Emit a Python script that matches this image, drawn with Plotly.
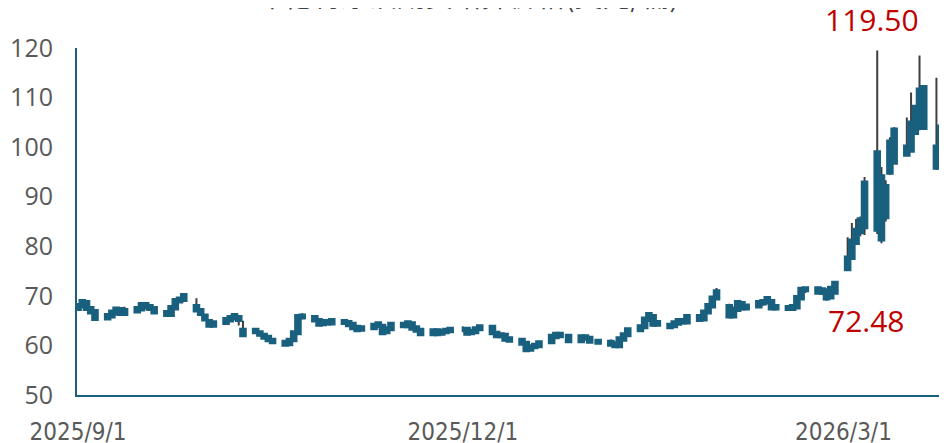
import plotly.graph_objects as go

# ---- data ----
dates = [
    "2025-09-01", "2025-09-02", "2025-09-03", "2025-09-04", "2025-09-05",
    "2025-09-08", "2025-09-09", "2025-09-10", "2025-09-11", "2025-09-12",
    "2025-09-15", "2025-09-16", "2025-09-17", "2025-09-18", "2025-09-19",
    "2025-09-22", "2025-09-23", "2025-09-24", "2025-09-25", "2025-09-26",
    "2025-09-29", "2025-09-30", "2025-10-01", "2025-10-02", "2025-10-03",
    "2025-10-06", "2025-10-07", "2025-10-08", "2025-10-09", "2025-10-10",
    "2025-10-13", "2025-10-14", "2025-10-15", "2025-10-16", "2025-10-17",
    "2025-10-20", "2025-10-21", "2025-10-22", "2025-10-23", "2025-10-24",
    "2025-10-27", "2025-10-28", "2025-10-29", "2025-10-30", "2025-10-31",
    "2025-11-03", "2025-11-04", "2025-11-05", "2025-11-06", "2025-11-07",
    "2025-11-10", "2025-11-11", "2025-11-12", "2025-11-13", "2025-11-14",
    "2025-11-17", "2025-11-18", "2025-11-19", "2025-11-20", "2025-11-21",
    "2025-11-24", "2025-11-25", "2025-11-26", "2025-11-27", "2025-11-28",
    "2025-12-01", "2025-12-02", "2025-12-03", "2025-12-04", "2025-12-05",
    "2025-12-08", "2025-12-09", "2025-12-10", "2025-12-11", "2025-12-12",
    "2025-12-15", "2025-12-16", "2025-12-17", "2025-12-18", "2025-12-19",
    "2025-12-22", "2025-12-23", "2025-12-24", "2025-12-26",
    "2025-12-29", "2025-12-30", "2025-12-31", "2026-01-02",
    "2026-01-05", "2026-01-06", "2026-01-07", "2026-01-08", "2026-01-09",
    "2026-01-12", "2026-01-13", "2026-01-14", "2026-01-15", "2026-01-16",
    "2026-01-19", "2026-01-20", "2026-01-21", "2026-01-22", "2026-01-23",
    "2026-01-26", "2026-01-27", "2026-01-28", "2026-01-29", "2026-01-30",
    "2026-02-02", "2026-02-03", "2026-02-04", "2026-02-05", "2026-02-06",
    "2026-02-09", "2026-02-10", "2026-02-11", "2026-02-12", "2026-02-13",
    "2026-02-16", "2026-02-17", "2026-02-18", "2026-02-19", "2026-02-20",
    "2026-02-23", "2026-02-24", "2026-02-25", "2026-02-26", "2026-02-27",
    "2026-03-02", "2026-03-03", "2026-03-04", "2026-03-05", "2026-03-06",
    "2026-03-09", "2026-03-10", "2026-03-11", "2026-03-12", "2026-03-13",
    "2026-03-16", "2026-03-17", "2026-03-18", "2026-03-19", "2026-03-20",
    "2026-03-23", "2026-03-24", "2026-03-25",
]

open_ = [
    67.5, 68.0, 68.6, 67.4, 66.8,
    65.6, 66.0, 66.6, 67.2, 66.5,
    67.0, 67.4, 68.2, 67.8, 67.4,
    66.6, 66.3, 67.6, 69.0, 69.3,
    67.8, 67.0, 65.9, 64.8, 64.1,
    64.7, 65.2, 65.6, 65.6, 63.0,
    62.8, 62.5, 62.0, 61.6, 61.0,
    60.6, 60.4, 61.2, 62.6, 65.8,
    65.6, 65.0, 64.4, 64.8, 64.6,
    64.8, 64.6, 64.2, 63.6, 63.3,
    63.6, 64.0, 63.8, 62.8, 63.4,
    64.2, 64.0, 64.3, 63.5, 63.0,
    62.4, 62.9, 62.5, 62.8, 63.0,
    63.2, 63.2, 62.6, 62.8, 63.4,
    63.6, 62.4, 62.0, 62.0, 61.3,
    61.0, 60.4, 59.3, 59.8, 60.0,
    60.8, 61.8, 62.2, 61.8,
    61.0, 61.7, 61.4, 60.8,
    60.6, 60.3, 60.0, 61.3, 62.2,
    63.2, 63.8, 65.3, 65.8, 64.3,
    63.8, 64.0, 64.5, 65.0, 64.8,
    65.8, 65.4, 66.8, 68.0, 69.6,
    67.8, 66.0, 67.3, 68.4, 67.6,
    68.0, 68.6, 68.8, 68.8, 67.6,
    67.6, 67.5, 67.8, 69.6, 71.3,
    71.4, 70.8, 71.0, 69.8, 70.8,
    75.5, 77.8, 80.8, 83.0, 84.0,
    98.8, 94.0, 86.0, 95.0, 97.0,
    100.0, 99.4, 103.0, 104.0, 104.0,
    100.0, 96.5, 100.0,
]

high = [
    68.2, 69.0, 68.8, 67.6, 67.0,
    66.4, 67.0, 67.5, 67.4, 67.8,
    67.6, 68.4, 68.4, 68.0, 67.6,
    66.9, 67.8, 69.2, 69.5, 70.2,
    69.5, 67.2, 66.2, 65.0, 64.8,
    65.5, 65.9, 66.3, 65.8, 65.0,
    63.4, 62.8, 62.3, 62.0, 61.5,
    61.0, 61.2, 62.8, 66.0, 66.5,
    66.0, 65.2, 65.0, 65.2, 65.2,
    65.2, 64.8, 64.4, 63.9, 63.8,
    64.3, 64.6, 64.0, 63.6, 64.4,
    64.5, 64.7, 64.4, 63.9, 63.3,
    63.2, 63.1, 63.0, 63.2, 63.5,
    63.8, 63.5, 63.2, 63.6, 64.0,
    64.0, 62.6, 62.5, 62.3, 61.6,
    61.3, 60.6, 60.0, 60.3, 60.8,
    62.0, 62.4, 62.5, 62.0,
    62.0, 62.0, 61.6, 61.2,
    61.2, 60.6, 61.6, 62.4, 63.4,
    64.0, 65.6, 66.5, 66.0, 64.8,
    64.3, 64.8, 65.3, 65.3, 66.0,
    66.2, 67.0, 68.2, 69.8, 71.6,
    68.4, 67.6, 69.0, 68.7, 68.3,
    69.0, 69.0, 69.8, 69.2, 68.0,
    68.0, 68.2, 69.8, 71.6, 71.8,
    71.8, 71.6, 71.3, 72.0, 73.0,
    81.8, 84.7, 85.5, 86.0, 94.0,
    119.5, 96.0, 93.3, 102.0, 104.0,
    106.0, 111.0, 108.5, 118.5, 112.5,
    114.0, 104.4, 101.0,
]

low = [
    67.2, 67.8, 67.2, 66.5, 65.3,
    65.4, 65.8, 66.3, 66.3, 66.2,
    66.8, 67.2, 67.6, 67.2, 66.6,
    65.8, 66.2, 67.5, 68.6, 69.0,
    67.0, 66.2, 65.1, 63.7, 63.8,
    64.4, 64.9, 65.3, 64.0, 61.7,
    62.4, 61.8, 61.5, 60.9, 60.3,
    60.0, 60.1, 61.0, 62.4, 65.3,
    64.8, 64.0, 64.1, 64.3, 64.3,
    64.3, 63.8, 63.3, 62.9, 63.0,
    63.3, 63.6, 62.3, 62.5, 63.2,
    63.6, 63.6, 63.2, 62.8, 61.9,
    62.0, 62.2, 62.3, 62.6, 62.5,
    62.8, 62.3, 62.2, 62.6, 63.2,
    62.3, 61.8, 61.7, 61.0, 60.8,
    60.2, 58.8, 59.0, 59.5, 59.8,
    60.6, 61.5, 61.8, 60.8,
    60.8, 61.2, 60.6, 60.3,
    59.9, 59.6, 59.8, 61.0, 62.0,
    62.8, 63.6, 65.0, 63.8, 63.9,
    63.4, 63.8, 64.2, 64.4, 64.6,
    64.9, 65.2, 66.5, 67.8, 69.2,
    65.5, 65.8, 67.0, 67.2, 67.2,
    67.6, 68.0, 68.5, 67.3, 67.1,
    67.0, 67.0, 67.6, 69.4, 70.6,
    70.4, 70.2, 69.0, 69.5, 70.5,
    75.0, 77.5, 80.5, 82.0, 82.3,
    82.5, 80.6, 85.0, 94.4, 96.8,
    98.2, 99.0, 102.5, 103.4, 103.8,
    95.4, 96.0, 97.5,
]

close = [
    68.0, 68.8, 67.5, 66.8, 65.5,
    66.0, 66.7, 67.3, 66.5, 67.0,
    67.4, 68.2, 67.8, 67.5, 66.8,
    66.3, 67.6, 69.0, 69.3, 70.0,
    67.2, 66.5, 65.4, 64.1, 64.5,
    65.2, 65.6, 66.0, 65.3, 62.2,
    63.0, 62.3, 61.7, 61.2, 60.8,
    60.3, 61.0, 62.5, 65.8, 65.9,
    65.2, 64.3, 64.8, 64.6, 65.0,
    64.7, 64.2, 63.6, 63.2, 63.5,
    64.0, 64.3, 62.6, 63.3, 64.2,
    64.0, 64.5, 63.5, 63.1, 62.4,
    62.9, 62.4, 62.8, 63.0, 63.2,
    63.2, 62.5, 62.8, 63.3, 63.7,
    62.6, 62.0, 62.1, 61.3, 61.1,
    60.5, 59.2, 59.7, 60.0, 60.5,
    61.8, 62.2, 62.0, 61.0,
    61.7, 61.5, 60.9, 60.7,
    60.3, 60.0, 61.3, 62.1, 63.1,
    63.7, 65.3, 66.2, 64.3, 64.6,
    64.0, 64.5, 65.0, 64.8, 65.8,
    65.3, 66.7, 68.0, 69.5, 70.8,
    66.0, 67.3, 68.6, 67.6, 67.9,
    68.6, 68.8, 69.4, 67.6, 67.8,
    67.5, 67.8, 69.6, 71.3, 71.4,
    70.8, 71.2, 69.6, 71.5, 72.48,
    77.6, 81.0, 83.2, 85.3, 92.7,
    83.5, 81.5, 92.0, 101.0, 103.4,
    98.6, 104.8, 108.0, 111.5, 112.0,
    96.0, 104.0, 98.0,
]

title_text = "布伦特原油期货结算价格(美元/桶)"
x_tick_vals = ["2025-09-01", "2025-12-01", "2026-03-01"]
x_tick_text = ["2025/9/1", "2025/12/1", "2026/3/1"]
y_tick_vals = [50, 60, 70, 80, 90, 100, 110, 120]

# ---- styles ----
TEAL = "#19607f"
WICK = "#3f3f3f"
GRAY = "#595959"
RED = "#c00000"

body_hi = [max(o, c) for o, c in zip(open_, close)]
body_lo = [min(o, c) for o, c in zip(open_, close)]

fig = go.Figure()

# wicks (full high-low range)
fig.add_trace(go.Candlestick(
    x=dates, open=open_, high=high, low=low, close=close,
    increasing=dict(line=dict(color=WICK, width=2), fillcolor=WICK),
    decreasing=dict(line=dict(color=WICK, width=2), fillcolor=WICK),
    hoverinfo="skip", showlegend=False,
))
# bodies with thick outline
fig.add_trace(go.Candlestick(
    x=dates, open=open_, high=body_hi, low=body_lo, close=close,
    increasing=dict(line=dict(color=TEAL, width=5.5), fillcolor=TEAL),
    decreasing=dict(line=dict(color=TEAL, width=5.5), fillcolor=TEAL),
    hoverinfo="skip", showlegend=False,
))

# data labels
imax = high.index(max(high))
fig.add_annotation(x=dates[imax], y=high[imax], text=f"{high[imax]:.2f}",
                   showarrow=False, xshift=-5, yshift=31,
                   font=dict(family="Open Sans", size=30, color=RED))
ilast = dates.index("2026-02-27")
fig.add_annotation(x=dates[ilast], y=close[ilast], text=f"{close[ilast]:.2f}",
                   showarrow=False, xshift=32, yshift=-37,
                   font=dict(family="Open Sans", size=30, color=RED))

# title (cut off at top, as in the reference)
fig.add_annotation(xref="paper", yref="paper", x=0.449, y=1.154,
                   xanchor="center", yanchor="middle", text=title_text,
                   showarrow=False,
                   font=dict(family="Noto Sans CJK SC", size=28, color="#404040"))

# page body has an 8px margin, so the figure is sized/offset to compensate
fig.update_layout(
    width=939, height=435,
    margin=dict(l=69, r=0, t=40, b=48, autoexpand=False),
    paper_bgcolor="white", plot_bgcolor="white",
    showlegend=False,
    xaxis=dict(
        type="date",
        range=["2025-08-31 18:00", "2026-03-25 12:00"],
        rangeslider=dict(visible=False),
        tickvals=x_tick_vals, ticktext=x_tick_text,
        showgrid=False, zeroline=False,
        showline=True, linecolor=TEAL, linewidth=2,
        ticks="", ticklabelstandoff=14, automargin=False,
        tickfont=dict(family="DejaVu Sans Condensed", size=24, color=GRAY),
    ),
    yaxis=dict(
        range=[50, 120],
        tickvals=y_tick_vals,
        showgrid=False, zeroline=False,
        showline=True, linecolor=TEAL, linewidth=2,
        ticks="", ticklabelstandoff=17, automargin=False,
        tickfont=dict(family="Open Sans", size=25, color=GRAY),
    ),
)

fig.write_html("out.html")
